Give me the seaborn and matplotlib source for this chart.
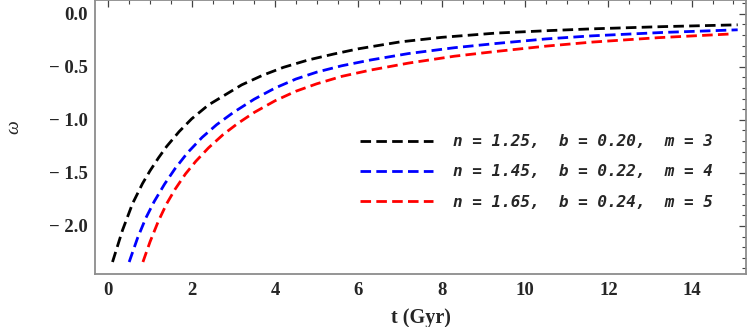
import numpy as np
import pandas as pd
import matplotlib
matplotlib.use("Agg")
import matplotlib.pyplot as plt
from matplotlib.ticker import MultipleLocator, FuncFormatter
import seaborn as sns

# ---- data ----
t_black = [0.10, 0.34, 0.58, 0.82, 1.00, 1.20, 1.40, 1.70, 2.00, 2.40, 2.80, 3.20,
           3.70, 4.20, 4.80, 5.40, 6.00, 7.00, 8.00, 9.30, 10.60, 11.60, 13.30, 15.10]
w_black = [-2.34, -2.04, -1.79, -1.60, -1.48, -1.36, -1.25, -1.11, -0.99, -0.86, -0.765, -0.67,
           -0.58, -0.505, -0.435, -0.38, -0.33, -0.265, -0.222, -0.182, -0.158, -0.142, -0.121, -0.104]

t_blue = [0.50, 0.70, 0.90, 1.10, 1.35, 1.60, 1.90, 2.25, 2.60, 3.00, 3.50, 4.00,
          4.50, 5.00, 5.60, 6.30, 7.20, 8.30, 9.30, 10.50, 11.60, 13.30, 15.10]
w_blue = [-2.34, -2.115, -1.925, -1.77, -1.605, -1.46, -1.31, -1.165, -1.045, -0.93, -0.805, -0.70,
          -0.615, -0.55, -0.49, -0.435, -0.375, -0.32, -0.28, -0.237, -0.208, -0.176, -0.151]

t_red = [0.83, 1.00, 1.20, 1.40, 1.60, 1.85, 2.10, 2.40, 2.75, 3.10, 3.50, 4.00,
         4.50, 5.00, 5.60, 6.30, 7.20, 8.30, 9.30, 10.50, 11.60, 13.20, 14.95]
w_red = [-2.34, -2.15, -1.955, -1.79, -1.655, -1.51, -1.39, -1.265, -1.14, -1.035, -0.93, -0.82,
         -0.73, -0.66, -0.59, -0.53, -0.465, -0.40, -0.355, -0.305, -0.267, -0.225, -0.19]

labels = ["n = 1.25,  b = 0.20,  m = 3",
          "n = 1.45,  b = 0.22,  m = 4",
          "n = 1.65,  b = 0.24,  m = 5"]
colors = ["#000000", "#0000ff", "#ff0000"]

x_ticks = [0, 2, 4, 6, 8, 10, 12, 14]
y_ticks = [-2.0, -1.5, -1.0, -0.5, 0.0]

df = pd.concat([
    pd.DataFrame({"t": t_black, "w": w_black, "case": labels[0]}),
    pd.DataFrame({"t": t_blue, "w": w_blue, "case": labels[1]}),
    pd.DataFrame({"t": t_red, "w": w_red, "case": labels[2]}),
], ignore_index=True)

sns.set_theme(style="white")
plt.rcParams["font.family"] = ["Liberation Serif", "DejaVu Serif"]

fig = plt.figure(figsize=(7.47, 3.27), dpi=100)
ax = fig.add_axes([95 / 747, 53 / 327, 651 / 747, 274 / 327])

sns.lineplot(data=df, x="t", y="w", hue="case", style="case",
             palette=colors, dashes=[(3.6, 1.9)] * 3, linewidth=2.0,
             sort=False, estimator=None, ax=ax)
for ln in ax.lines:
    ln.set_linewidth(2.0)
    ln.set_dashes((3.8, 1.9))

ax.set_xlim(-0.32, 15.3)
ax.set_ylim(-2.453, 0.13)

ax.set_xticks(x_ticks)
ax.set_yticks(y_ticks)
ax.xaxis.set_minor_locator(MultipleLocator(0.5))
ax.yaxis.set_minor_locator(MultipleLocator(0.1))
ax.yaxis.set_major_formatter(FuncFormatter(
    lambda v, p: ("\u2212 " + f"{abs(v):.1f}") if v < -1e-9 else f"{abs(v):.1f}"))

for s in ax.spines.values():
    s.set_color("#8c8c8c")
    s.set_linewidth(1.3)

ax.tick_params(which="both", direction="in", top=True, right=True,
               color="#444444")
ax.tick_params(which="major", length=5, width=0.9)
ax.tick_params(which="minor", length=3, width=0.8)
ax.tick_params(axis="x", which="major", pad=6, labelsize=13.5)
ax.tick_params(axis="y", which="major", pad=5, labelsize=13.5)
for lab in ax.get_xticklabels() + ax.get_yticklabels():
    lab.set_fontweight("bold")

ax.set_xlabel("t (Gyr)", fontsize=14.5, fontweight="bold", labelpad=6)
ax.set_ylabel("\u03c9", fontsize=14, style="italic", rotation=90)
ax.yaxis.set_label_coords(-0.112, 0.536)

handles, lbls = ax.get_legend_handles_labels()
for h in handles:
    h.set_linewidth(2.0)
    h.set_dashes((3.8, 1.9))
leg = ax.legend(handles, lbls, loc="upper left", bbox_to_anchor=(0.407, 0.51),
                frameon=False, borderpad=0, borderaxespad=0,
                handlelength=4.6, handletextpad=1.2, labelspacing=0.95,
                prop={"family": "DejaVu Sans Mono", "weight": "bold",
                      "style": "oblique", "size": 11.5})

fig.savefig("out.png", dpi=100)
